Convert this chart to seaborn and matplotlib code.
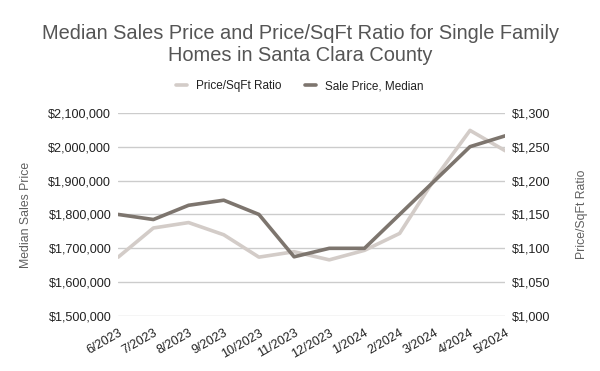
import pandas as pd
import matplotlib.pyplot as plt
import matplotlib.ticker as mticker
import seaborn as sns

months = ["6/2023", "7/2023", "8/2023", "9/2023", "10/2023", "11/2023",
          "12/2023", "1/2024", "2/2024", "3/2024", "4/2024", "5/2024"]
sale_price = [1800000, 1785000, 1827000, 1842000, 1800000, 1675000,
              1700000, 1700000, 1800000, 1900000, 2000000, 2032000]
price_sqft = [1087, 1130, 1138, 1120, 1087, 1095,
              1083, 1097, 1122, 1203, 1274, 1244]

dark = "#7d756e"
light = "#d3ccc8"
text_grey = "#5f5f5f"

df = pd.DataFrame({"month": months, "sale": sale_price, "sqft": price_sqft})
df["pos"] = range(len(df))

sns.set_style("white")
plt.rcParams["font.family"] = ["Liberation Sans", "DejaVu Sans"]

fig = plt.figure(figsize=(6, 3.71), dpi=100)
ax = fig.add_axes([0.197, 0.148, 0.645, 0.548])
ax2 = ax.twinx()

# right axis sits underneath so the dark line ends up on top
ax.set_zorder(2)
ax.patch.set_visible(False)
ax2.set_zorder(1)

sns.lineplot(data=df, x="pos", y="sqft", ax=ax2, color=light, linewidth=2.6,
             label="Price/SqFt Ratio", legend=False)
sns.lineplot(data=df, x="pos", y="sale", ax=ax, color=dark, linewidth=2.6,
             label="Sale Price, Median", legend=False)

ax.set_ylim(1500000, 2100000)
ax2.set_ylim(1000, 1300)
ax.set_yticks(range(1500000, 2100001, 100000))
ax2.set_yticks(range(1000, 1301, 50))
ax.yaxis.set_major_formatter(mticker.FuncFormatter(lambda v, p: f"${v:,.0f}"))
ax2.yaxis.set_major_formatter(mticker.FuncFormatter(lambda v, p: f"${v:,.0f}"))

ax.set_xlim(0, len(months) - 1)
ax.set_xticks(df["pos"])
ax.set_xticklabels(months, rotation=30, ha="right", rotation_mode="anchor")

for a in (ax, ax2):
    for s in a.spines.values():
        s.set_visible(False)
    a.tick_params(length=0, labelsize=9.1, colors="#222222", pad=5)
ax.tick_params(axis="x", pad=8)

ax.grid(False)
ax2.grid(True, color="#cccccc", linewidth=1)
ax2.xaxis.grid(True)
ax2.set_axisbelow(True)
# vertical grid on ax2 needs x ticks
ax2.set_xticks(df["pos"])

ax.set_xlabel("")
ax.set_ylabel("Median Sales Price", color=text_grey, fontsize=8.8, labelpad=12)
ax2.set_ylabel("Price/SqFt Ratio", color=text_grey, fontsize=8.8, labelpad=18)

fig.suptitle("Median Sales Price and Price/SqFt Ratio for Single Family\nHomes in Santa Clara County",
             fontsize=14.4, color="#555555", y=0.935, linespacing=1.2)

h1, l1 = ax2.get_legend_handles_labels()
h2, l2 = ax.get_legend_handles_labels()
fig.legend(h1 + h2, l1 + l2, loc="center", bbox_to_anchor=(0.5, 0.768), ncol=2,
           frameon=False, fontsize=8.5, handlelength=0.9, columnspacing=2.0,
           labelcolor="#222222")

fig.savefig("out.png", dpi=100)
